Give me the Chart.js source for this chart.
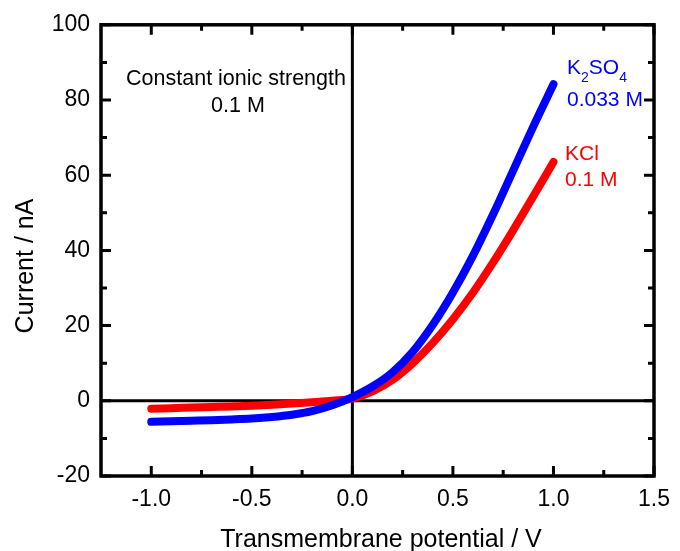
<!DOCTYPE html>
<html>
<head>
<meta charset="utf-8">
<script src="https://cdn.jsdelivr.net/npm/chart.js@4"></script>
<style>
 html, body { margin: 0; padding: 0; background: #fff; }
</style>
</head>
<body>
<canvas id="ivChart" width="680" height="551"></canvas>
<script>
// transmembrane potential (V) and the two I-V curves (nA)
const potential = [-1.0, -0.9, -0.8, -0.7, -0.6, -0.5, -0.4, -0.3, -0.2, -0.1, 0.0,
 0.1, 0.2, 0.3, 0.4, 0.5, 0.6, 0.7, 0.8, 0.9, 1.0];
const k2so4Current = [-5.6, -5.45, -5.3, -5.15, -4.95, -4.7, -4.3, -3.7, -2.75, -1.2, 1.0,
 3.8, 7.6, 13.0, 20.2, 28.8, 38.6, 49.6, 61.3, 73.0, 84.2];
const kclCurrent = [-2.1, -1.95, -1.8, -1.65, -1.5, -1.3, -1.05, -0.75, -0.4, 0.05, 0.6,
 2.5, 5.6, 10.0, 15.4, 21.7, 28.8, 36.8, 45.4, 54.4, 63.5];

const xMajorTicks = [-1.0, -0.5, 0.0, 0.5, 1.0, 1.5];
const xMinorTicks = [-0.75, -0.25, 0.25, 0.75, 1.25];
const yMajorTicks = [-20, 0, 20, 40, 60, 80, 100];
const yMinorTicks = [-10, 10, 30, 50, 70, 90];

const FONT = "'Liberation Sans', Arial, Helvetica, sans-serif";

const toPoints = (ys) => potential.map((x, i) => ({ x, y: ys[i] }));

function drawParts(ctx, parts, x, y, color) {
 ctx.fillStyle = color;
 ctx.textAlign = "left";
 ctx.textBaseline = "alphabetic";
 for (const [text, size, dy] of parts) {
  ctx.font = `${size}px ${FONT}`;
  ctx.fillText(text, x, y + dy);
  x += ctx.measureText(text).width;
 }
}

const framePlugin = {
 id: "frame",
 beforeDatasetsDraw(chart) {
  const { ctx, chartArea: a, scales: { x, y } } = chart;
  const x0 = x.getPixelForValue(0);
  const y0 = y.getPixelForValue(0);
  ctx.save();
  ctx.strokeStyle = "#000";
  ctx.lineWidth = 3;
  ctx.beginPath();
  ctx.moveTo(a.left, y0); ctx.lineTo(a.right, y0);
  ctx.moveTo(x0, a.top); ctx.lineTo(x0, a.bottom);
  ctx.stroke();
  ctx.restore();
 },
 afterDatasetsDraw(chart) {
  const { ctx, chartArea: a, scales: { x, y } } = chart;
  ctx.save();
  ctx.strokeStyle = "#000";
  ctx.lineWidth = 3;
  ctx.beginPath();
  const tickX = (v, len) => {
   const px = x.getPixelForValue(v);
   ctx.moveTo(px, a.bottom); ctx.lineTo(px, a.bottom - len);
   ctx.moveTo(px, a.top); ctx.lineTo(px, a.top + len);
  };
  const tickY = (v, len) => {
   const py = y.getPixelForValue(v);
   ctx.moveTo(a.left, py); ctx.lineTo(a.left + len, py);
   ctx.moveTo(a.right, py); ctx.lineTo(a.right - len, py);
  };
  xMajorTicks.forEach((v) => tickX(v, 10));
  xMinorTicks.forEach((v) => tickX(v, 6));
  yMajorTicks.forEach((v) => tickY(v, 10));
  yMinorTicks.forEach((v) => tickY(v, 6));
  ctx.stroke();
  ctx.lineWidth = 3.5;
  ctx.strokeRect(a.left, a.top, a.right - a.left, a.bottom - a.top);
  ctx.restore();
 },
 afterDraw(chart) {
  const { ctx } = chart;
  ctx.save();
  ctx.fillStyle = "#000";
  ctx.textAlign = "center";
  ctx.textBaseline = "alphabetic";
  ctx.font = `21.5px ${FONT}`;
  ctx.fillText("Constant ionic strength", 236, 85);
  ctx.fillText("0.1 M", 238, 112);

  drawParts(ctx, [["K", 21, 0], ["2", 14, 8], ["SO", 21, 0], ["4", 14, 8]], 567, 73.5, "#0000ff");
  drawParts(ctx, [["0.033 M", 21, 0]], 567, 106, "#0000ff");
  drawParts(ctx, [["KCl", 21, 0]], 565, 160, "#ff0000");
  drawParts(ctx, [["0.1 M", 21, 0]], 565, 186, "#ff0000");

  ctx.fillStyle = "#000";
  ctx.textAlign = "center";
  ctx.font = `25px ${FONT}`;
  ctx.fillText("Transmembrane potential / V", 381, 547);
  ctx.translate(33, 266);
  ctx.rotate(-Math.PI / 2);
  ctx.fillText("Current / nA", 0, 0);
  ctx.restore();
 },
};

new Chart(document.getElementById("ivChart"), {
 type: "line",
 data: {
  datasets: [
   {
    label: "K2SO4 0.033 M",
    data: toPoints(k2so4Current),
    borderColor: "#0000ff",
    borderWidth: 8,
    borderCapStyle: "round",
    borderJoinStyle: "round",
    pointRadius: 0,
    cubicInterpolationMode: "monotone",
    fill: false,
   },
   {
    label: "KCl 0.1 M",
    data: toPoints(kclCurrent),
    borderColor: "#ff0000",
    borderWidth: 8,
    borderCapStyle: "round",
    borderJoinStyle: "round",
    pointRadius: 0,
    cubicInterpolationMode: "monotone",
    fill: false,
   },
  ],
 },
 options: {
  responsive: false,
  animation: false,
  layout: { padding: { top: 22, right: 19, left: 0, bottom: 0 } },
  plugins: { legend: { display: false }, tooltip: { enabled: false } },
  scales: {
   x: {
    type: "linear",
    min: -1.25,
    max: 1.5,
    grid: { display: false, drawTicks: false },
    border: { display: false },
    afterBuildTicks: (scale) => { scale.ticks = xMajorTicks.map((value) => ({ value })); },
    afterFit: (scale) => { scale.height = 75; },
    ticks: {
     color: "#000",
     padding: 10,
     autoSkip: false,
     maxRotation: 0,
     font: { family: FONT, size: 23 },
     callback: (v) => Number(v).toFixed(1),
    },
   },
   y: {
    type: "linear",
    min: -20,
    max: 100,
    grid: { display: false, drawTicks: false },
    border: { display: false },
    afterBuildTicks: (scale) => { scale.ticks = yMajorTicks.map((value) => ({ value })); },
    afterFit: (scale) => { scale.width = 101; },
    ticks: {
     color: "#000",
     padding: 11,
     font: { family: FONT, size: 23 },
     callback: (v) => String(v),
    },
   },
  },
 },
 plugins: [framePlugin],
});
</script>
</body>
</html>
